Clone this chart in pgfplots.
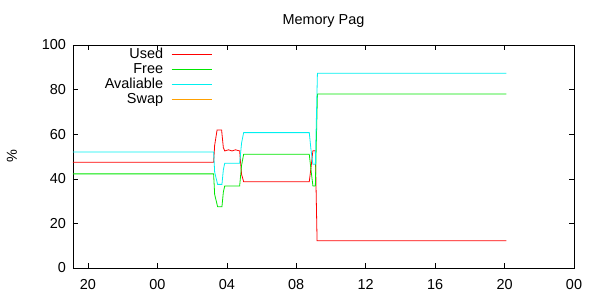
\documentclass[border=0pt]{standalone}
\usepackage{pgfplots}
\pgfplotsset{compat=1.18}
\usetikzlibrary{calc}
\usepackage{fontspec}
\setmainfont{Liberation Sans}
\definecolor{gpred}{RGB}{255,0,0}
\definecolor{gpgreen}{RGB}{0,230,0}
\definecolor{gpcyan}{RGB}{0,240,240}
\definecolor{gporange}{RGB}{255,160,0}
\begin{document}
\fontsize{14.5}{16}\selectfont
\begin{tikzpicture}
\begin{axis}[
  name=ax,
  at={(0,0)}, anchor=south west,
  scale only axis,
  width=501bp, height=223bp,
  xmin=-4.86, xmax=24, ymin=0, ymax=100,
  xtick={-4,0,4,8,12,16,20,24},
  xticklabels={20,00,04,08,12,16,20,00},
  ytick={0,20,40,60,80,100},
  tick align=inside,
  major tick length=5bp,
  axis line style={line width=0.8pt},
  tick style={line width=0.6pt, black},
  /pgf/number format/assume math mode=true,
  ticklabel style={font=\fontsize{14.5}{16}\selectfont},
  yticklabel style={xshift=-2bp},
  xticklabel style={yshift=-6bp},
  title={Memory Pag},
  title style={at={(axis description cs:0.5,1)}, anchor=base, yshift=15bp, font=\fontsize{14.5}{16}\selectfont},
  ylabel={\%},
  ylabel style={at={(axis description cs:-0.122,0.5)}, anchor=center, font=\fontsize{14.5}{16}\selectfont},
  legend plot pos=right,
  legend cell align=right,
  legend style={draw=none, fill=none, at={(axis description cs:0.061,1.0)}, anchor=north west, yshift=-2bp,
    font=\fontsize{14.5}{16}\selectfont, row sep=0bp, inner sep=0bp,
    nodes={text height=10bp, text depth=3bp, inner sep=1bp}},
  legend image code/.code={\path (0cm,0cm); \draw[#1] plot coordinates {(0.25cm,0cm) (0.95cm,0cm) (1.66cm,0cm)};},
  every axis plot/.append style={line width=0.8pt},
]
\addplot[gpred] coordinates {
(-4.86,47.4) (3.24,47.4) (3.30,55) (3.44,61.9) (3.70,61.9) (3.80,54) (3.88,52.5)
(4.1,53) (4.3,52.5) (4.5,53) (4.74,52.5) (4.85,42) (4.97,38.7) (8.75,38.7)
(8.85,45) (8.96,52.6) (9.10,52.6) (9.20,12.2) (20.1,12.2)};
\addlegendentry{Used}
\addplot[gpgreen] coordinates {
(-4.86,42.2) (3.24,42.2) (3.30,33) (3.47,27.5) (3.72,27.5) (3.80,34) (3.88,36.8)
(4.74,36.8) (4.85,46) (4.97,51) (8.75,51) (8.85,44) (8.96,36.8) (9.10,36.8)
(9.22,78) (20.1,78)};
\addlegendentry{Free}
\addplot[gpcyan] coordinates {
(-4.86,52) (3.24,52) (3.30,43) (3.47,37.5) (3.72,37.5) (3.80,44) (3.88,47)
(4.74,47) (4.85,56) (4.97,60.7) (8.75,60.7) (8.85,53) (8.96,46.5) (9.10,46.5)
(9.22,87.3) (20.1,87.3)};
\addlegendentry{Avaliable}
\addlegendimage{gporange, line width=0.8pt}
\addlegendentry{Swap}
\end{axis}
\pgfresetboundingbox
\useasboundingbox ($(ax.south west)+(-73bp,-32bp)$) rectangle ($(ax.north east)+(26bp,45bp)$);
\end{tikzpicture}
\end{document}
